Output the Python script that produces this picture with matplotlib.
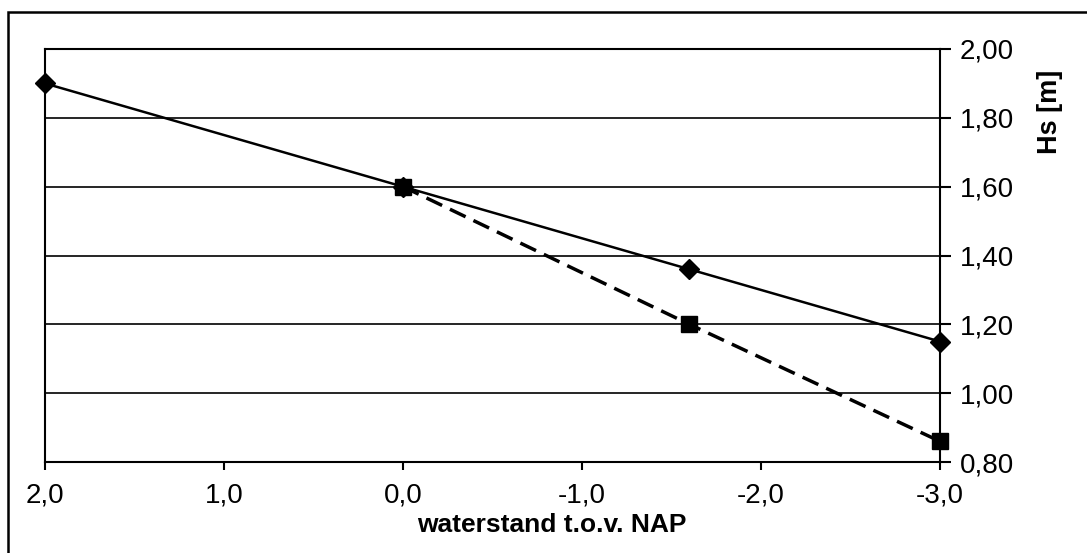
import matplotlib
matplotlib.use("Agg")
import matplotlib.pyplot as plt
from matplotlib.patches import Rectangle
from matplotlib.ticker import FuncFormatter

plt.rcParams['font.family'] = ['Liberation Sans', 'DejaVu Sans']

# data
x_solid = [2.0, 0.0, -1.6, -3.0]
hs_solid = [1.90, 1.60, 1.36, 1.15]
x_dashed = [0.0, -1.6, -3.0]
hs_dashed = [1.60, 1.20, 0.86]
x_ticks = [2.0, 1.0, 0.0, -1.0, -2.0, -3.0]
y_ticks = [0.80, 1.00, 1.20, 1.40, 1.60, 1.80, 2.00]
x_label = "waterstand t.o.v. NAP"
y_label = "Hs [m]"

W, H = 1087, 553
fig = plt.figure(figsize=(W/100, H/100), dpi=100)
ax = fig.add_axes([45/W, 1-462/H, (940-45)/W, (462-49)/H])

ax.plot(x_solid, hs_solid, color='black', lw=1.8, marker='D', markersize=10,
        zorder=3, clip_on=False)
ax.plot(x_dashed, hs_dashed, color='black', lw=2.5, dashes=(5, 2.5),
        marker='s', markersize=11, zorder=4, clip_on=False)

ax.set_xlim(2.0, -3.0)
ax.set_ylim(0.80, 2.00)
ax.set_xticks(x_ticks)
ax.set_yticks(y_ticks)
ax.xaxis.set_major_formatter(FuncFormatter(lambda v, p: f"{v:.1f}".replace('.', ',').replace('-0,0', '0,0')))
ax.yaxis.set_major_formatter(FuncFormatter(lambda v, p: f"{v:.2f}".replace('.', ',')))
ax.yaxis.tick_right()
ax.tick_params(axis='y', direction='out', length=8, width=1.5, labelsize=20, pad=6)
ax.tick_params(axis='x', direction='out', length=6, width=1.5, labelsize=20, pad=9)
ax.grid(axis='y', color='black', lw=1.2)
ax.set_axisbelow(True)
for s in ax.spines.values():
    s.set_linewidth(1.5)
    s.set_color('black')

fig.text(552/W, 1-525/H, x_label, fontsize=19, fontweight='bold',
         ha='center', va='center')
fig.text(1050/W, 1-112/H, y_label, rotation=90, fontsize=19.5,
         fontweight='bold', ha='center', va='center')

# outer frame (partially visible)
fig.patches.append(Rectangle((8/W, -0.05), 1.1, 1-12/H+0.05,
                             transform=fig.transFigure, fill=False,
                             edgecolor='black', lw=1.8))

fig.savefig("out.png", dpi=100)
